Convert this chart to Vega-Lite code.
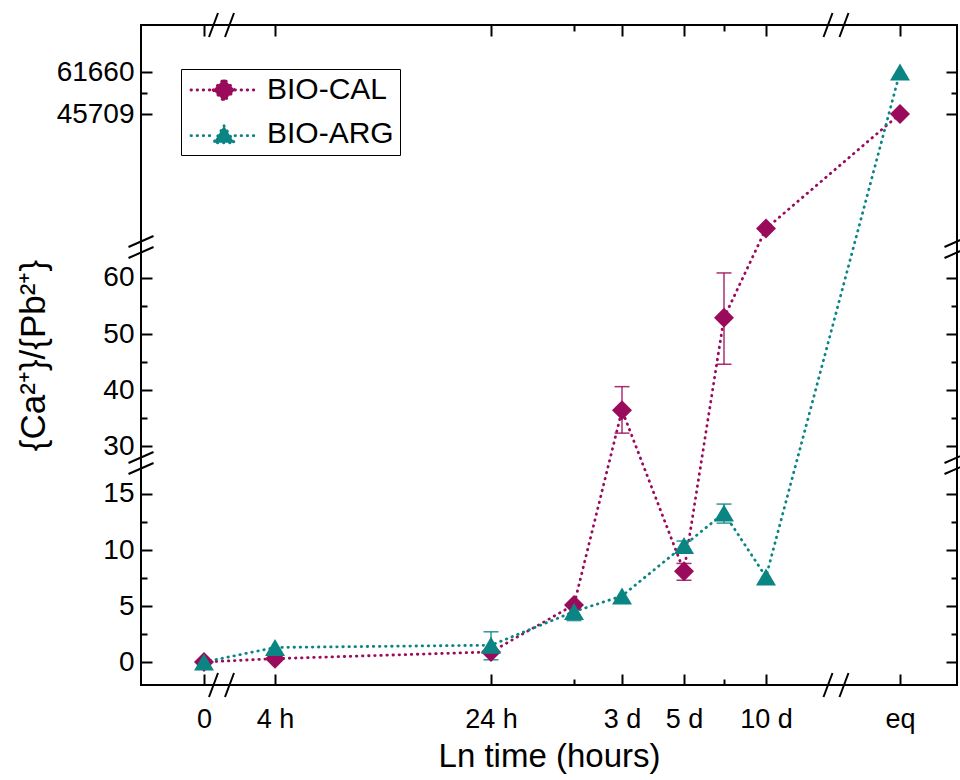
{
  "$schema": "https://vega.github.io/schema/vega-lite/v6.json",
  "autosize": "none",
  "width": 816,
  "height": 660,
  "padding": {"left": 141, "top": 25, "right": 3, "bottom": 95},
  "background": "white",
  "config": {
    "font": "Liberation Sans",
    "view": {"stroke": "black", "strokeWidth": 2},
    "axis": {"labelFont": "Liberation Sans", "titleFont": "Liberation Sans", "labelColor": "black", "titleColor": "black", "tickColor": "black"}
  },
  "datasets": {
    "points": [
      {"series": "BIO-CAL", "hours": 0, "ratio": 0},
      {"series": "BIO-CAL", "hours": 4, "ratio": 0.3},
      {"series": "BIO-CAL", "hours": 24, "ratio": 0.9},
      {"series": "BIO-CAL", "hours": 48, "ratio": 5.1},
      {"series": "BIO-CAL", "hours": 72, "ratio": 36.4, "lo": 32.3, "hi": 40.6},
      {"series": "BIO-CAL", "hours": 120, "ratio": 8.1, "lo": 7.3, "hi": 8.8},
      {"series": "BIO-CAL", "hours": 168, "ratio": 52.9, "lo": 44.6, "hi": 60.9},
      {"series": "BIO-CAL", "hours": 240, "ratio": 20000},
      {"series": "BIO-CAL", "hours": 1000, "ratio": 45709},
      {"series": "BIO-ARG", "hours": 0, "ratio": 0},
      {"series": "BIO-ARG", "hours": 4, "ratio": 1.3},
      {"series": "BIO-ARG", "hours": 24, "ratio": 1.5, "lo": 0.2, "hi": 2.7},
      {"series": "BIO-ARG", "hours": 48, "ratio": 4.5, "lo": 3.7, "hi": 5.2},
      {"series": "BIO-ARG", "hours": 72, "ratio": 5.9},
      {"series": "BIO-ARG", "hours": 120, "ratio": 10.4, "lo": 10.0, "hi": 10.8},
      {"series": "BIO-ARG", "hours": 168, "ratio": 13.3, "lo": 12.4, "hi": 14.1},
      {"series": "BIO-ARG", "hours": 240, "ratio": 7.6},
      {"series": "BIO-ARG", "hours": 1000, "ratio": 61660}
    ],
    "breaks": [
      {"kind": "x", "hours": 0.85, "ratio": -2.05},
      {"kind": "x", "hours": 0.85, "ratio": 79510},
      {"kind": "x", "hours": 460, "ratio": -2.05},
      {"kind": "x", "hours": 460, "ratio": 79510},
      {"kind": "y", "hours": -4, "ratio": 22.6},
      {"kind": "y", "hours": 1400, "ratio": 22.6},
      {"kind": "y", "hours": -4, "ratio": 8532},
      {"kind": "y", "hours": 1400, "ratio": 8532}
    ]
  },
  "resolve": {"axis": {"x": "independent", "y": "independent"}},
  "layer": [
    {
      "data": {"name": "points"},
      "mark": {"type": "line", "strokeDash": [0.5, 5.6], "strokeCap": "round", "strokeWidth": 2.8},
      "encoding": {
        "x": {"field": "hours", "type": "quantitative",
          "scale": {"domain": [-4, 0, 0.7, 1, 4, 24, 48, 72, 120, 168, 240, 320, 600, 1000, 1400], "range": [0, 63, 74, 88, 134, 350, 433, 481, 543, 583, 625, 689, 702, 759, 816], "zero": false, "nice": false},
          "axis": {"orient": "bottom", "values": [0, 4, 24, 48, 72, 120, 168, 240, 1000],
            "labelExpr": "datum.value==0?'0':datum.value==4?'4 h':datum.value==24?'24 h':datum.value==72?'3 d':datum.value==120?'5 d':datum.value==240?'10 d':datum.value==1000?'eq':''",
            "title": "Ln time (hours)", "titleFontSize": 33, "titleFontWeight": "normal", "titlePadding": 3,
            "grid": false, "domain": false,
            "tickSize": {"condition": {"test": "datum.value==48||datum.value==168", "value": -6}, "value": -11},
            "tickWidth": 2, "labelFontSize": 27, "labelPadding": 32, "labelFlush": false, "labelOverlap": false, "labelBound": false}},
        "y": {"field": "ratio", "type": "quantitative",
          "scale": {"domain": [-2.05, 17.23, 28.04, 64.64, 17000, 45709, 79510], "range": [660, 444, 432, 227, 217, 89, 0], "zero": false, "nice": false},
          "axis": {"orient": "left", "values": [0, 2.5, 5, 7.5, 10, 12.5, 15, 30, 35, 40, 45, 50, 55, 60, 45709, 53685, 61660], "format": "d",
            "labelExpr": "(datum.value==2.5||datum.value==7.5||datum.value==12.5||datum.value==35||datum.value==45||datum.value==55||datum.value==53685)?'':datum.label",
            "title": "{Ca²⁺}/{Pb²⁺}", "titleFontSize": 35, "titleFontWeight": "normal", "titlePadding": 5,
            "grid": false, "domain": false,
            "tickSize": {"condition": {"test": "datum.value==2.5||datum.value==7.5||datum.value==12.5||datum.value==35||datum.value==45||datum.value==55||datum.value==53685", "value": -6}, "value": -11},
            "tickWidth": 2, "labelFontSize": 28, "labelPadding": 18, "labelOverlap": false, "labelBound": false, "labelFlush": false}},
        "color": {"field": "series", "type": "nominal", "scale": {"domain": ["BIO-CAL", "BIO-ARG"], "range": ["#9B0B5B", "#0B8583"]},
          "legend": {"title": null, "orient": "none", "legendX": 40, "legendY": 44,
            "labelFontSize": 30, "labelFont": "Liberation Sans", "labelColor": "black",
            "symbolSize": 484, "strokeColor": "black", "fillColor": "white", "padding": 6, "rowPadding": 12,
            "labelOffset": 28, "symbolOffset": 22,
            "encode": {"symbols": {"update": {
              "shape": {"signal": "datum.value === 'BIO-CAL' ? 'M-3,0L-1,0M1,0L3,0M-1,0L0,-1L1,0L0,1Z' : 'M-3,0.15L-1,0.15M1,0.15L3,0.15M0,-0.75L0.95,0.8L-0.95,0.8Z'"},
              "fill": {"scale": "color", "field": "value"},
              "stroke": {"scale": "color", "field": "value"},
              "opacity": {"value": 1},
              "fillOpacity": {"value": 1},
              "strokeOpacity": {"value": 1},
              "size": {"value": 484},
              "strokeWidth": {"value": 2.8},
              "strokeDash": {"value": [0.5, 5.6]},
              "strokeCap": {"value": "round"}
            }}}}}
      }
    },
    {
      "data": {"name": "points"},
      "transform": [{"filter": "isValid(datum.lo)"}],
      "mark": {"type": "rule", "strokeWidth": 1.5, "opacity": 0.85},
      "encoding": {
        "x": {"field": "hours", "type": "quantitative", "axis": null},
        "y": {"field": "lo", "type": "quantitative", "axis": null},
        "y2": {"field": "hi"},
        "color": {"field": "series", "type": "nominal"}
      }
    },
    {
      "data": {"name": "points"},
      "transform": [{"filter": "isValid(datum.lo)"}],
      "mark": {"type": "tick", "orient": "horizontal", "size": 15, "thickness": 1.5, "opacity": 0.85},
      "encoding": {
        "x": {"field": "hours", "type": "quantitative", "axis": null},
        "y": {"field": "lo", "type": "quantitative", "axis": null},
        "color": {"field": "series", "type": "nominal"}
      }
    },
    {
      "data": {"name": "points"},
      "transform": [{"filter": "isValid(datum.hi)"}],
      "mark": {"type": "tick", "orient": "horizontal", "size": 15, "thickness": 1.5, "opacity": 0.85},
      "encoding": {
        "x": {"field": "hours", "type": "quantitative", "axis": null},
        "y": {"field": "hi", "type": "quantitative", "axis": null},
        "color": {"field": "series", "type": "nominal"}
      }
    },
    {
      "data": {"name": "points"},
      "transform": [{"filter": "datum.series == 'BIO-CAL'"}],
      "mark": {"type": "point", "filled": true, "opacity": 1, "size": 400, "shape": "diamond"},
      "encoding": {
        "x": {"field": "hours", "type": "quantitative", "axis": null},
        "y": {"field": "ratio", "type": "quantitative", "axis": null},
        "color": {"field": "series", "type": "nominal"}
      }
    },
    {
      "data": {"name": "points"},
      "transform": [{"filter": "datum.series == 'BIO-ARG'"}],
      "mark": {"type": "point", "filled": true, "opacity": 1, "size": 400, "shape": "M0,-0.85L1,0.85L-1,0.85Z"},
      "encoding": {
        "x": {"field": "hours", "type": "quantitative", "axis": null},
        "y": {"field": "ratio", "type": "quantitative", "axis": null},
        "color": {"field": "series", "type": "nominal"}
      }
    },
    {
      "mark": {"type": "rect", "color": "white"},
      "encoding": {
        "x": {"datum": -4.5, "type": "quantitative", "axis": null}, "x2": {"datum": 1450},
        "y": {"datum": 17.23, "type": "quantitative", "axis": null}, "y2": {"datum": 28.04}
      }
    },
    {
      "mark": {"type": "rect", "color": "white"},
      "encoding": {
        "x": {"datum": -4.5, "type": "quantitative", "axis": null}, "x2": {"datum": 1450},
        "y": {"datum": 64.64, "type": "quantitative", "axis": null}, "y2": {"datum": 17000}
      }
    },
    {
      "mark": {"type": "rect", "color": "white"},
      "encoding": {
        "x": {"datum": 0.7, "type": "quantitative", "axis": null}, "x2": {"datum": 1},
        "y": {"datum": -3, "type": "quantitative", "axis": null}, "y2": {"datum": 85000}
      }
    },
    {
      "mark": {"type": "rect", "color": "white"},
      "encoding": {
        "x": {"datum": 320, "type": "quantitative", "axis": null}, "x2": {"datum": 600},
        "y": {"datum": -3, "type": "quantitative", "axis": null}, "y2": {"datum": 85000}
      }
    },
    {
      "data": {"name": "breaks"},
      "transform": [{"filter": "datum.kind == 'x'"}],
      "mark": {"type": "point", "filled": false, "stroke": "black", "strokeWidth": 2, "opacity": 1, "size": 1600, "shape": "M-0.65,0.6L-0.2,-0.6M0.15,0.6L0.6,-0.6"},
      "encoding": {
        "x": {"field": "hours", "type": "quantitative", "axis": null},
        "y": {"field": "ratio", "type": "quantitative", "axis": null}
      }
    },
    {
      "data": {"name": "breaks"},
      "transform": [{"filter": "datum.kind == 'y'"}],
      "mark": {"type": "point", "filled": false, "stroke": "black", "strokeWidth": 2, "opacity": 1, "size": 1600, "shape": "M-0.625,0L0.625,-0.55M-0.625,0.55L0.625,0"},
      "encoding": {
        "x": {"field": "hours", "type": "quantitative", "axis": null},
        "y": {"field": "ratio", "type": "quantitative", "axis": null}
      }
    },
    {
      "data": {"name": "points"},
      "mark": {"type": "point", "opacity": 0},
      "encoding": {
        "x": {"field": "hours", "type": "quantitative",
          "axis": {"orient": "top", "values": [0, 4, 24, 48, 72, 120, 168, 240, 1000], "labels": false, "title": null, "grid": false, "domain": false,
            "tickSize": {"condition": {"test": "datum.value==48||datum.value==168", "value": -6}, "value": -11}, "tickWidth": 2}},
        "y": {"field": "ratio", "type": "quantitative",
          "axis": {"orient": "right", "values": [0, 2.5, 5, 7.5, 10, 12.5, 15, 30, 35, 40, 45, 50, 55, 60, 45709, 53685, 61660], "labels": false, "title": null, "grid": false, "domain": false,
            "tickSize": {"condition": {"test": "datum.value==2.5||datum.value==7.5||datum.value==12.5||datum.value==35||datum.value==45||datum.value==55||datum.value==53685", "value": -6}, "value": -11}, "tickWidth": 2}}
      }
    }
  ]
}
